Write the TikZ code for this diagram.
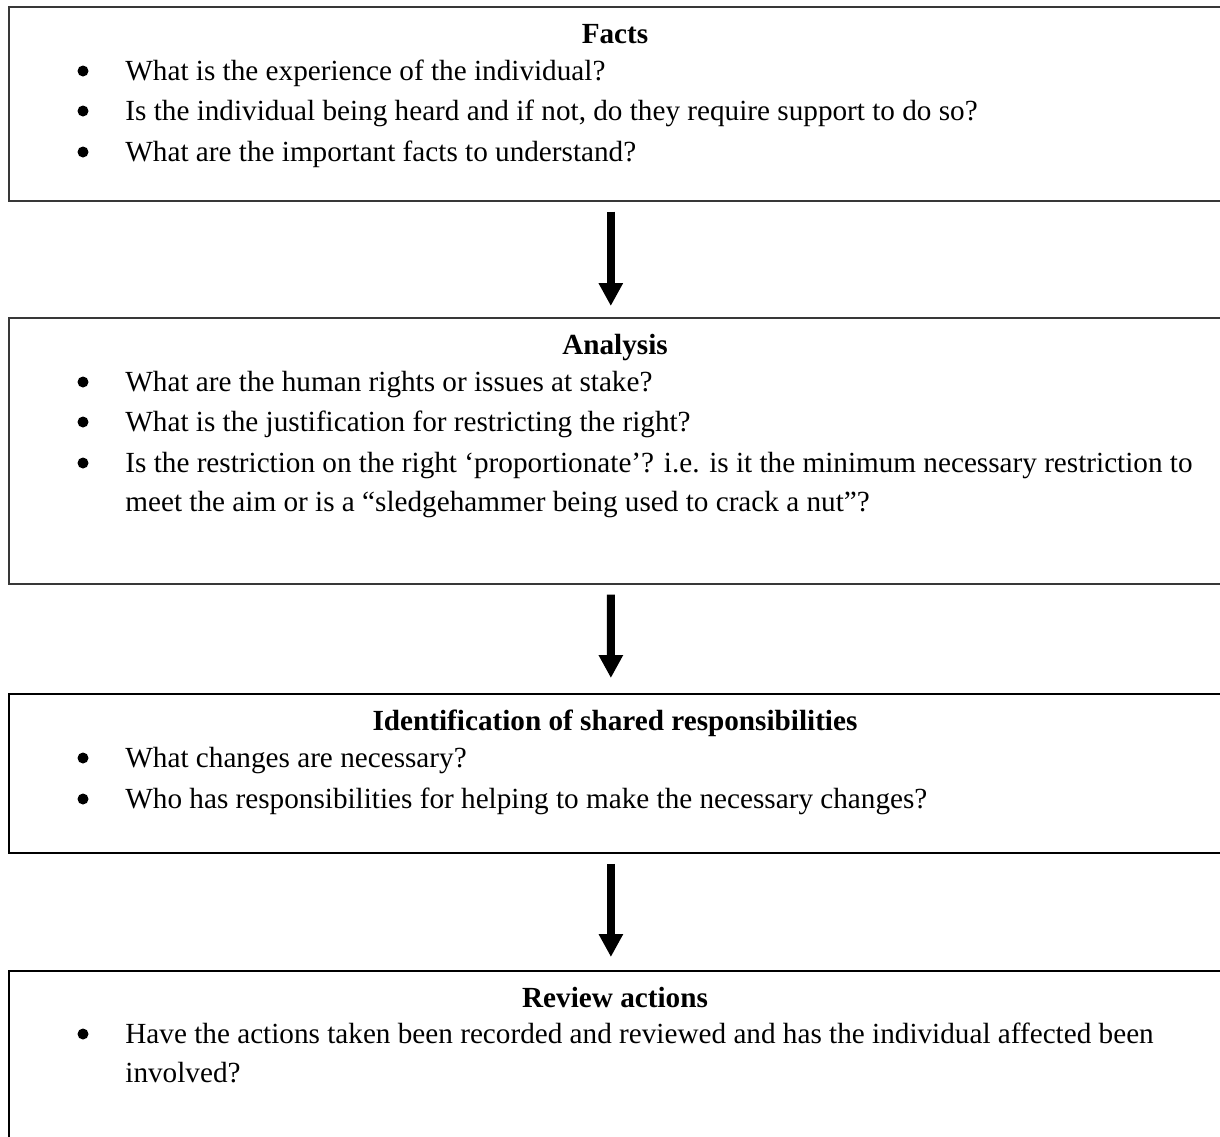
\documentclass[tikz,border=0pt]{standalone}
\usepackage{fontspec}
\setmainfont{Liberation Serif}
\usetikzlibrary{arrows.meta}
\tikzset{
  boxgray/.style={draw=black!78, line width=0.8pt, inner sep=0pt, anchor=north west, minimum width=611pt},
  boxblack/.style={draw=black, line width=0.9pt, inner sep=0pt, anchor=north west, minimum width=611pt},
  ttl/.style={anchor=base, inner sep=0pt, font=\fontsize{14.6pt}{17pt}\selectfont\bfseries},
  txt/.style={anchor=base west, inner sep=0pt, font=\fontsize{14.6pt}{17pt}\selectfont},
  bul/.style={circle, fill=black, inner sep=0pt, minimum size=5.5pt},
  arr/.style={line width=4pt, -{Triangle[width=11.5pt,length=11.5pt]}, shorten <=5pt}
}
\begin{document}
\begin{tikzpicture}[x=0.5pt, y=-0.5pt]
\useasboundingbox (0,0) rectangle (1220,1136);
% boxes
\node[boxgray, minimum height=97pt] (b1) at (8,6) {};
\node[boxgray, minimum height=133pt] (b2) at (8,317) {};
\node[boxblack, minimum height=79.5pt] (b3) at (8,693) {};
\node[boxblack, minimum height=90pt] (b4) at (8,970) {};
% box 1
\node[ttl] (t1) at (615,43) {Facts};
\node[bul] (d1a) at (83,71) {};
\node[txt] (l1a) at (125,80) {What is the experience of the individual?};
\node[bul] (d1b) at (83,111) {};
\node[txt] (l1b) at (125,120) {Is the individual being heard and if not, do they require support to do so?};
\node[bul] (d1c) at (83,152) {};
\node[txt] (l1c) at (125,161) {What are the important facts to understand?};
% box 2
\node[ttl] (t2) at (615,354) {Analysis};
\node[bul] (d2a) at (83,382) {};
\node[txt] (l2a) at (125,391) {What are the human rights or issues at stake?};
\node[bul] (d2b) at (83,422) {};
\node[txt] (l2b) at (125,431) {What is the justification for restricting the right?};
\node[bul] (d2c) at (83,463) {};
\node[txt] (l2c) at (125,472) {Is the restriction on the right ‘proportionate’? i.e. is it the minimum necessary restriction to};
\node[txt] (l2d) at (125,511) {meet the aim or is a “sledgehammer being used to crack a nut”?};
% box 3
\node[ttl] (t3) at (615,730) {Identification of shared responsibilities};
\node[bul] (d3a) at (83,758) {};
\node[txt] (l3a) at (125,767) {What changes are necessary?};
\node[bul] (d3b) at (83,799) {};
\node[txt] (l3b) at (125,808) {Who has responsibilities for helping to make the necessary changes?};
% box 4
\node[ttl] (t4) at (615,1007) {Review actions};
\node[bul] (d4a) at (83,1034) {};
\node[txt] (l4a) at (125,1043) {Have the actions taken been recorded and reviewed and has the individual affected been};
\node[txt] (l4b) at (125,1082) {involved?};
% arrows
\draw[arr, shorten >=5.5pt] ([xshift=-4.5pt]b1.south) -- ([xshift=-4.5pt]b2.north);
\draw[arr, shorten >=7.5pt] ([xshift=-4.5pt]b2.south) -- ([xshift=-4.5pt]b3.north);
\draw[arr, shorten >=6.5pt] ([xshift=-4.5pt]b3.south) -- ([xshift=-4.5pt]b4.north);
\end{tikzpicture}
\end{document}
